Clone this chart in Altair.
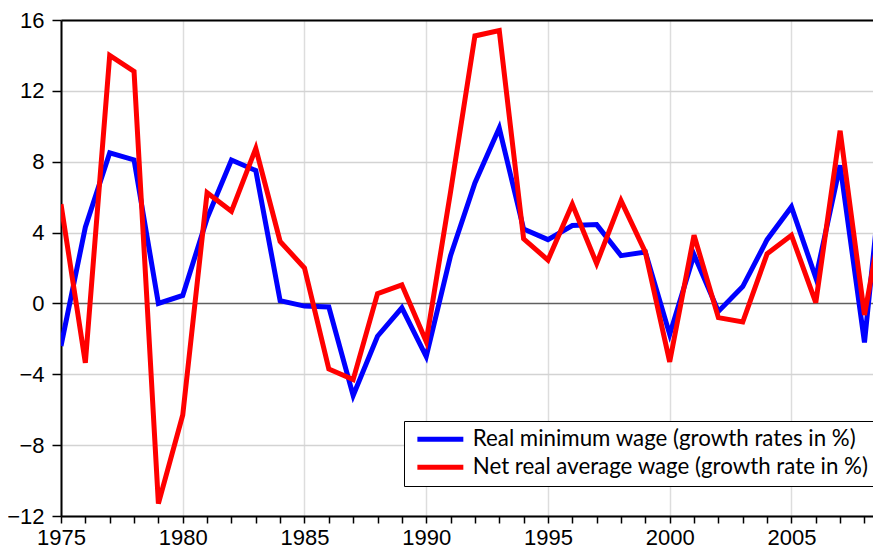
import altair as alt
import pandas as pd

years = list(range(1975, 2010))
min_wage = [-2.4, 4.3, 8.5, 8.1, 0.0, 0.45, 4.8, 8.1, 7.5, 0.15,
            -0.15, -0.2, -5.2, -1.85, -0.25, -3.0, 2.7, 6.8, 9.9, 4.2,
            3.6, 4.4, 4.45, 2.7, 2.9, -1.75, 2.75, -0.45, 0.95, 3.6,
            5.45, 1.45, 7.8, -2.2, 11.3]
avg_wage = [5.6, -3.35, 14.0, 13.1, -11.3, -6.3, 6.25, 5.2, 8.75, 3.5,
            2.0, -3.7, -4.3, 0.55, 1.05, -2.15, 6.3, 15.1, 15.4, 3.65,
            2.45, 5.6, 2.25, 5.8, 2.9, -3.3, 3.85, -0.8, -1.05, 2.8,
            3.85, 0.05, 9.75, -0.65, 7.0]
names = ["Real minimum wage (growth rates in %)",
         "Net real average wage (growth rate in %)"]
y_ticks = [-12, -8, -4, 0, 4, 8, 12, 16]

df = pd.DataFrame({
    "year": years * 2,
    "value": min_wage + avg_wage,
    "series": [names[0]] * len(years) + [names[1]] * len(years),
})

xscale = alt.Scale(domain=[1975, 2008.35], nice=False, zero=False)
x_bottom = alt.X("year:Q", scale=xscale,
                 axis=alt.Axis(orient="bottom", values=years, format="d", title=None,
                               labelExpr="datum.value % 5 === 0 ? datum.label : ''",
                               labelFlush=False, labelOverlap=False,
                               gridOpacity={"condition": {"test": "datum.value % 5 === 0", "value": 1}, "value": 0},
                               tickSize=7, labelPadding=4))
x_top = alt.X("year:Q", scale=xscale,
              axis=alt.Axis(orient="top", labels=False, ticks=False, grid=False, title=None))
y = alt.Y("value:Q",
          scale=alt.Scale(domain=[-12, 16], nice=False, zero=False),
          axis=alt.Axis(values=y_ticks, title=None, tickSize=9, labelPadding=8,
                        gridColor={"condition": {"test": "datum.value === 0", "value": "#606060"}, "value": "#d3d3d3"}))
color = alt.Color("series:N",
                  scale=alt.Scale(domain=names, range=["#0000ff", "#ff0000"]),
                  legend=alt.Legend(title=None, orient="none", legendX=343, legendY=401,
                                    strokeColor="black", fillColor="white", padding=7,
                                    symbolType="M-0.83,0H7.17", symbolStrokeWidth=5, symbolSize=132,
                                    labelFont="Lato", labelFontSize=22.3, labelColor="black",
                                    labelOffset=39.5, labelLimit=1000, rowPadding=5))

base = alt.Chart(df)
blue = base.transform_filter(alt.datum.series == names[0]).mark_line(strokeWidth=5, clip=True).encode(x=x_bottom, y=y, color=color)
red = base.transform_filter(alt.datum.series == names[1]).mark_line(strokeWidth=5, clip=True).encode(x=x_top, y=y, color=color)

chart = alt.layer(blue, red).properties(
    width=812, height=496,
    padding={"left": 53, "top": 12, "right": 0, "bottom": 39},
    autosize="none",
).configure_view(stroke=None).configure_axis(
    domainColor="black", domainWidth=2, tickColor="black", tickWidth=1.5,
    labelFont="Liberation Sans", labelFontSize=22, labelColor="black",
    gridWidth=1.5,
)

chart.save("out.html", embed_options={"renderer": "svg", "actions": False})
